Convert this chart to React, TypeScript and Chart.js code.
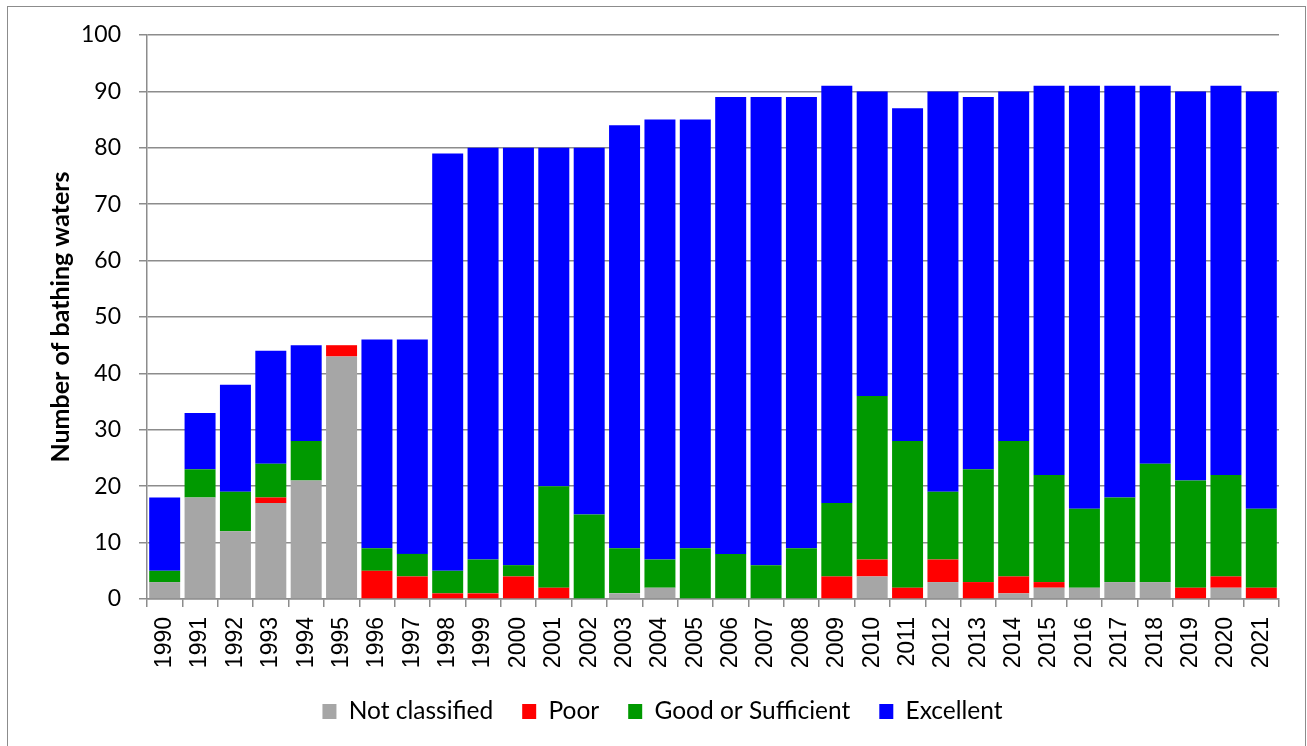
import React, { useEffect, useRef } from "react";
import { Chart, registerables } from "chart.js";

Chart.register(...registerables);

const years = ["1990","1991","1992","1993","1994","1995","1996","1997","1998","1999","2000","2001","2002","2003","2004","2005","2006","2007","2008","2009","2010","2011","2012","2013","2014","2015","2016","2017","2018","2019","2020","2021"];
const notClassified = [3,18,12,17,21,43,0,0,0,0,0,0,0,1,2,0,0,0,0,0,4,0,3,0,1,2,2,3,3,0,2,0];
const poor = [0,0,0,1,0,2,5,4,1,1,4,2,0,0,0,0,0,0,0,4,3,2,4,3,3,1,0,0,0,2,2,2];
const goodOrSufficient = [2,5,7,6,7,0,4,4,4,6,2,18,15,8,5,9,8,6,9,13,29,26,12,20,24,19,14,15,21,19,18,14];
const excellent = [13,10,19,20,17,0,37,38,74,73,74,60,65,75,78,76,81,83,80,74,54,59,71,66,62,69,75,73,67,69,69,74];
const yTicks = [0,10,20,30,40,50,60,70,80,90,100];

export default function App() {
  const ref = useRef<HTMLCanvasElement | null>(null);
  useEffect(() => {
    document.body.style.margin = "0";
    const grid = "#8c8c8c";
    const chart = new Chart(ref.current as HTMLCanvasElement, {
      type: "bar",
      data: {
        labels: years,
        datasets: [
          { label: "Not classified", data: notClassified, backgroundColor: "#a6a6a6" },
          { label: "Poor", data: poor, backgroundColor: "#ff0000" },
          { label: "Good or Sufficient", data: goodOrSufficient, backgroundColor: "#009900" },
          { label: "Excellent", data: excellent, backgroundColor: "#0000ff" },
        ],
      },
      options: {
        responsive: false,
        animation: false,
        devicePixelRatio: 1,
        layout: { padding: { left: 46, right: 28, top: 35, bottom: 12.25 } },
        datasets: { bar: { categoryPercentage: 1, barPercentage: 0.876, borderWidth: 0 } },
        plugins: {
          tooltip: { enabled: false },
          legend: {
            position: "bottom",
            labels: {
              boxWidth: 14,
              boxHeight: 15,
              padding: 29,
              color: "#000",
              font: { family: "Lato", size: 24.5 },
            },
          },
        },
        scales: {
          x: {
            stacked: true,
            grid: { drawOnChartArea: false, drawTicks: true, tickLength: 8, color: grid, lineWidth: 1.5, offset: true },
            border: { color: grid, width: 1.5 },
            ticks: {
              minRotation: 90,
              maxRotation: 90,
              autoSkip: false,
              padding: 10,
              color: "#000",
              font: { family: "Liberation Sans", size: 23 },
            },
            afterFit: (s: any) => { s.height = 71.25; },
          },
          y: {
            stacked: true,
            min: 0,
            max: 100,
            afterBuildTicks: (s: any) => { s.ticks = yTicks.map((v) => ({ value: v })); },
            grid: { color: grid, lineWidth: 1.5, tickLength: 8 },
            border: { color: grid, width: 1.5 },
            ticks: { padding: 18, color: "#000", font: { family: "Lato", size: 23 } },
            title: {
              display: true,
              text: "Number of bathing waters",
              color: "#000",
              padding: { top: 0, bottom: 0 },
              font: { family: "Lato", size: 25, weight: "bold" },
            },
            afterFit: (s: any) => { s.width = 101; },
          },
        },
      },
    });
    return () => chart.destroy();
  }, []);
  return (
    <div style={{ position: "fixed", left: 0, top: 0, width: 1307, height: 746, overflow: "hidden", background: "#fff" }}>
      <div style={{ position: "absolute", left: 7, top: 6, width: 1299, height: 760, border: "1px solid #8c8c8c", boxSizing: "border-box" }} />
      <canvas ref={ref} width={1307} height={746} style={{ position: "absolute", left: 0, top: 0, width: 1307, height: 746 }} />
    </div>
  );
}
